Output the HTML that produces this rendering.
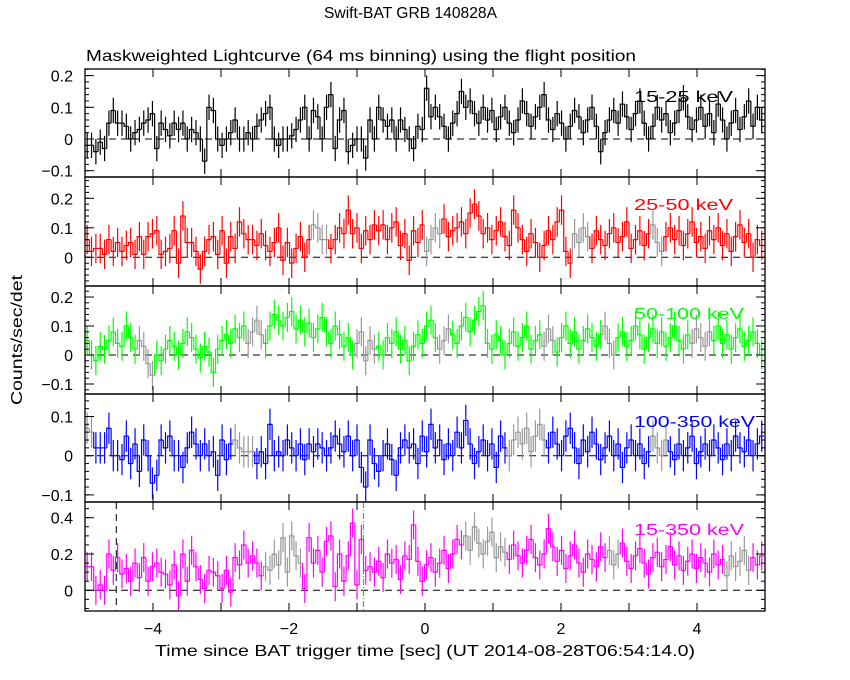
<!DOCTYPE html>
<html><head><meta charset="utf-8"><style>
body{margin:0;background:#fff}
svg{display:block}
text{font-family:"Liberation Sans",sans-serif;font-size:16px}
</style></head><body>
<svg id="chart" width="850" height="680" xmlns="http://www.w3.org/2000/svg">
<rect width="850" height="680" fill="#fff"/>
<text x="324" y="18" textLength="173" lengthAdjust="spacingAndGlyphs">Swift-BAT GRB 140828A</text>
<text x="86" y="61" textLength="550" lengthAdjust="spacingAndGlyphs">Maskweighted Lightcurve (64 ms binning) using the flight position</text>
<text x="155" y="656" textLength="540" lengthAdjust="spacingAndGlyphs">Time since BAT trigger time [sec] (UT 2014-08-28T06:54:14.0)</text>
<text transform="translate(22,340) rotate(-90)" text-anchor="middle" textLength="130" lengthAdjust="spacingAndGlyphs">Counts/sec/det</text>
</svg>
<script>
const p1 = [-0.02,-0.02,-0.04,-0.01,-0.03,0.05,0.09,0.05,0.05,0.04,0.0,0.02,0.03,0.05,0.06,0.08,-0.03,0.05,0.03,0.01,0.05,0.03,0.05,0.0,0.03,0.02,0.0,-0.07,0.1,0.09,0.0,-0.02,0.0,0.02,0.06,0.0,0.0,0.02,0.0,0.04,0.06,0.08,0.1,0.0,-0.02,0.0,0.0,0.01,0.03,0.06,0.1,0.0,0.09,0.07,0.0,0.1,0.14,-0.03,0.06,0.09,-0.04,-0.02,0.0,0.0,-0.06,0.06,0.0,0.1,0.06,0.04,0.06,0.0,0.06,0.03,0.0,-0.03,0.04,0.03,0.16,0.07,
0.1,0.07,0.04,0.0,0.05,0.08,0.15,0.1,0.12,0.08,0.05,0.1,0.06,0.09,0.03,0.07,0.1,0.05,0.02,0.06,0.12,0.08,0.04,0.07,0.1,0.14,0.06,0.03,0.08,0.05,0.0,0.04,0.09,0.07,0.02,0.06,0.1,0.04,-0.04,0.02,0.06,0.09,0.05,0.11,0.07,0.03,0.08,0.12,0.05,0.0,0.04,0.1,0.06,0.08,0.02,0.05,0.09,0.13,0.07,0.03,0.06,0.1,0.04,0.08,0.02,0.11,0.06,0.0,0.05,0.09,0.03,0.07,0.12,0.04,0.1,0.06];
const p2 = [0.06,0.02,0.03,0.03,0.01,0.06,0.02,0.05,0.02,0.04,0.05,0.01,0.07,0.01,0.07,0.08,0.09,0.01,0.02,0.03,0.09,-0.02,0.14,0.05,0.05,0.02,-0.04,0.02,0.06,0.07,0.01,0.09,-0.02,0.07,0.03,0.12,0.08,0.06,0.06,0.04,0.08,0.04,0.02,0.05,0.1,-0.01,0.05,-0.02,0.03,0.07,0.0,0.06,0.11,0.1,0.06,0.06,0.03,0.06,0.1,0.08,0.16,0.08,0.1,0.03,0.09,0.06,0.11,0.09,0.11,0.06,0.1,0.12,0.04,0.08,-0.01,0.09,0.05,0.11,0.02,0.06,0.1,0.08,0.13,0.07,0.09,0.1,0.12,0.08,0.15,0.18,0.14,0.08,0.1,0.06,0.09,0.12,0.07,0.04,0.16,0.1,0.06,0.02,0.08,0.05,0.0,0.04,0.09,0.06,0.12,0.16,0.02,-0.02,0.08,0.05,0.1,0.07,0.03,0.09,0.06,0.04,0.08,0.1,0.05,0.07,0.12,0.03,0.06,0.09,0.04,0.08,0.11,0.05,0.02,0.07,0.1,0.06,0.09,0.04,0.08,0.12,0.05,0.07,0.03,0.09,0.06,0.1,0.04,0.08,0.02,0.07,0.11,0.05,0.08,0.0,0.06,0.04];
const p3 = [0.05,0.0,-0.02,0.03,0.02,0.05,0.08,0.04,0.03,0.1,0.06,0.02,0.05,0.03,-0.03,-0.07,0.0,-0.02,0.02,0.05,0.03,0.0,0.04,0.08,0.06,0.02,-0.01,0.03,0.01,-0.06,0.02,0.05,0.07,0.04,0.09,0.06,0.1,0.04,0.08,0.12,0.07,0.04,0.1,0.14,0.12,0.1,0.13,0.15,0.09,0.12,0.08,0.11,0.06,0.09,0.13,0.08,0.04,0.1,0.07,0.03,0.06,0.0,0.04,0.08,-0.02,0.05,0.02,0.03,0.0,0.06,0.04,0.08,0.02,0.05,-0.02,0.03,0.07,0.04,0.1,0.12,0.06,0.02,0.05,0.09,0.07,0.04,0.1,0.13,0.08,0.12,0.15,0.17,0.04,0.02,0.07,0.05,0.0,0.04,0.08,0.03,0.06,0.1,0.02,0.05,0.07,0.03,0.09,0.05,0.01,0.06,0.1,0.04,0.08,0.02,0.05,0.09,0.06,0.03,0.07,0.1,0.04,0.0,0.06,0.08,0.03,0.05,0.1,0.07,0.02,0.06,0.09,0.04,0.08,0.03,0.06,0.1,0.05,0.02,0.07,0.04,0.09,0.06,0.03,0.08,0.05,0.1,0.04,0.07,0.02,0.06,0.09,0.03,0.05,0.08,0.04,0.0];
const p4 = [0.07,0.06,0.02,0.02,0.02,0.07,0.0,0.0,-0.01,0.05,-0.02,0.03,-0.04,0.04,0.0,-0.07,-0.05,0.04,0.02,0.05,0.0,0.0,-0.03,0.02,0.06,0.03,0.0,0.03,0.0,0.01,-0.05,0.04,-0.01,0.03,0.04,0.02,0.01,0.01,0.01,-0.02,0.01,-0.02,0.08,0.0,0.01,0.0,0.04,0.02,0.0,0.03,-0.01,0.03,0.01,0.03,0.02,0.0,0.02,0.05,0.03,0.01,0.05,0.0,0.04,-0.03,-0.08,0.04,-0.02,-0.04,0.0,0.03,-0.01,-0.05,0.02,0.04,0.02,0.03,-0.02,0.05,0.01,0.08,0.02,0.04,-0.01,0.03,0.0,0.06,0.02,0.09,0.03,-0.02,0.01,0.04,0.0,0.03,-0.03,0.05,0.02,0.0,0.04,0.06,0.03,0.07,0.01,0.05,0.08,0.04,0.02,0.06,0.03,0.0,0.05,0.07,0.02,-0.02,0.04,0.01,0.06,0.03,-0.01,0.02,0.05,0.0,0.03,-0.03,0.02,0.04,0.0,0.03,-0.02,0.01,0.05,0.02,0.0,0.04,0.01,-0.01,0.03,0.0,0.02,0.05,-0.02,0.01,0.03,0.0,0.04,0.02,-0.01,0.03,0.0,0.05,0.02,0.01,0.04,0.0,0.03,0.05];
const p5 = [0.13,0.13,0.0,0.03,0.0,0.2,0.11,0.18,0.09,0.12,0.05,0.15,0.07,0.18,0.05,0.13,0.15,0.1,0.09,0.03,0.14,-0.03,0.2,0.05,0.22,0.13,0.06,0.01,0.11,0.1,0.08,0.01,0.11,-0.01,0.18,0.14,0.25,0.15,0.19,0.15,0.08,0.13,0.11,0.2,0.14,0.29,0.1,0.3,0.19,0.15,0.01,0.29,0.15,0.22,0.1,0.27,0.3,0.02,0.2,0.05,0.19,0.37,0.03,0.28,0.11,0.13,0.1,0.16,0.07,0.2,0.15,0.17,0.06,0.19,0.17,0.36,0.16,0.05,0.14,0.18,0.1,0.15,0.22,0.12,0.2,0.28,0.25,0.3,0.22,0.35,0.26,0.2,0.27,0.32,0.18,0.24,0.21,0.17,0.25,0.19,0.15,0.22,0.28,0.18,0.14,0.2,0.34,0.24,0.16,0.22,0.12,0.19,0.25,0.15,0.1,0.2,0.17,0.13,0.24,0.18,0.22,0.14,0.2,0.26,0.16,0.12,0.19,0.23,0.15,0.09,0.18,0.21,0.13,0.17,0.24,0.14,0.19,0.11,0.16,0.2,0.12,0.18,0.15,0.1,0.2,0.14,0.17,0.08,0.19,0.13,0.16,0.22,0.11,0.18,0.14,0.19];
const bandLabels = ["15-25 keV","25-50 keV","50-100 keV","100-350 keV","15-350 keV"];
const errs = [0.04,0.05,0.05,0.04,0.08];
const greyIntervals = [[],[[-1.7,-1.4],[0,0.25],[2.2,2.4],[3.3,3.5]],[[-4.2,-4.0],[-2.6,-2.4],[-1.0,-0.7],[0.2,0.4],[1.7,1.9],[2.6,2.8],[3.9,4.2]],[[-5,-4.85],[-2.8,-2.5],[1.2,1.8],[3.3,3.6]],[[-2.4,-1.8],[0.6,1.2],[2.7,2.9],[4.4,4.8]]];
const yMajor = [[-0.1,0,0.1,0.2],[0,0.1,0.2],[-0.1,0,0.1,0.2],[-0.1,0,0.1],[0,0.2,0.4]];
const xTicks = [-4,-2,0,2,4];
const dt = 0.064, t0 = -5;
const series = [p1,p2,p3,p4,p5];
const colors = ["#000","#f00","#0f0","#00f","#f0f"];
const panels = [{top:69,bot:177,zy:139,s:317},{top:177,bot:286,zy:257.3,s:295},{top:286,bot:394,zy:355,s:290},{top:394,bot:502,zy:455.7,s:392},{top:502,bot:611,zy:590.3,s:181.5}];
const minorStep=[0.02,0.02,0.02,0.02,0.05];
const NS="http://www.w3.org/2000/svg";
const svg=document.getElementById('chart');
const X0=85,X1=765;
function xs(t){return 425+68*t;}
function mk(tag,attrs,parent){const e=document.createElementNS(NS,tag);for(const k in attrs)e.setAttribute(k,attrs[k]);(parent||svg).appendChild(e);return e;}
panels.forEach((P,pi)=>{
  const g=mk('g',{});
  
  
  const ys=v=>P.zy-P.s*v;
  const clip=mk('clipPath',{id:'c'+pi},g);mk('rect',{x:X0,y:P.top,width:X1-X0,height:P.bot-P.top},clip);
  const d=mk('g',{'clip-path':'url(#c'+pi+')'},g);
  const z=mk('line',{x1:X0,x2:X1,y1:ys(0),y2:ys(0),stroke:'#000','stroke-dasharray':'7,5','stroke-width':1},d);
  
  
  const vals=series[pi];
  vals.forEach((v,i)=>{
    const ta=t0+i*dt,tb=ta+dt,tc=ta+dt/2;
    const grey=greyIntervals[pi].some(r=>tc>=r[0]&&tc<=r[1]);
    const c=grey?'#999':colors[pi];
    let path='M'+xs(ta)+' '+ys(v)+' H'+xs(tb);
    if(i>0)path='M'+xs(ta)+' '+ys(vals[i-1])+' V'+ys(v)+' H'+xs(tb);
    const b=mk('path',{d:path,stroke:c,fill:'none','stroke-width':1.2},d);
    
    
    const e=mk('line',{x1:xs(tc),x2:xs(tc),y1:ys(v-errs[pi]),y2:ys(v+errs[pi]),stroke:c,'stroke-width':1.2},d);
    
    
  });
  if(pi==4){
    const l1=mk('line',{x1:xs(-4.54),x2:xs(-4.54),y1:P.top,y2:P.bot,stroke:'#000','stroke-dasharray':'7,5'},g);
    
    
    const l2=mk('line',{x1:xs(-0.906),x2:xs(-0.906),y1:P.top,y2:P.bot,stroke:'#0c0','stroke-dasharray':'6,2,1,2'},g);
    
    
  }
  const fr=mk('rect',{x:X0,y:P.top,width:X1-X0,height:P.bot-P.top,fill:'none',stroke:'#000','stroke-width':1.3},g);
  
  
  for(let t=-4;t<=4;t++){
    mk('line',{x1:xs(t),x2:xs(t),y1:P.top,y2:P.top+8,stroke:'#000'},g);
    mk('line',{x1:xs(t),x2:xs(t),y1:P.bot,y2:P.bot-8,stroke:'#000'},g);
  }
  const vmin=(P.zy-P.bot)/P.s, vmax=(P.zy-P.top)/P.s;
  for(let k=Math.ceil(vmin/minorStep[pi]);k*minorStep[pi]<=vmax;k++){
    const y=ys(k*minorStep[pi]);
    mk('line',{x1:X0,x2:X0+4,y1:y,y2:y,stroke:'#000'},g);
    mk('line',{x1:X1,x2:X1-4,y1:y,y2:y,stroke:'#000'},g);
  }
  yMajor[pi].forEach(v=>{
    const y=ys(v);
    mk('line',{x1:X0,x2:X0+9,y1:y,y2:y,stroke:'#000'},g);
    mk('line',{x1:X1,x2:X1-9,y1:y,y2:y,stroke:'#000'},g);
    const tl=mk('text',{x:X0-12,y:y+6,'text-anchor':'end'},g);
    tl.textContent=(v<0?'\u2212'+(-v):String(v));
    
    
  });
  const lb=mk('text',{x:634,y:P.top+33,fill:colors[pi],textLength:bandLabels[pi].length*11,lengthAdjust:'spacingAndGlyphs'},g);
  lb.textContent=bandLabels[pi];
  
  
});
xTicks.forEach(t=>{
  const tl=mk('text',{x:xs(t),y:634,'text-anchor':'middle'});
  tl.textContent=(t<0?'\u2212'+(-t):String(t));
  
  
});
</script>
</body></html>
